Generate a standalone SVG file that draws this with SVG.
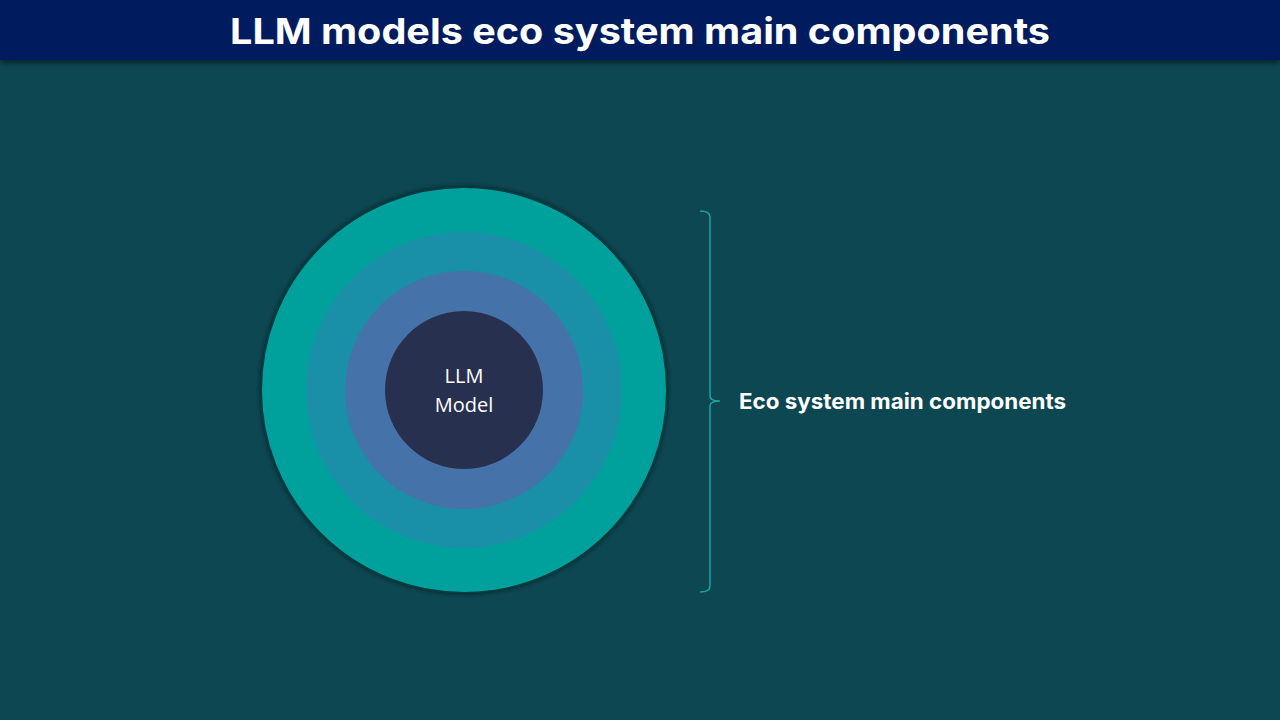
<svg xmlns="http://www.w3.org/2000/svg" width="1280" height="720" viewBox="0 0 1280 720">
<defs>
<filter id="hdrShadow" x="-5%" y="-20%" width="110%" height="160%">
<feDropShadow dx="0" dy="3" stdDeviation="3" flood-color="#000" flood-opacity="0.5"/>
</filter>
<filter id="ringShadow" x="-10%" y="-10%" width="120%" height="120%">
<feDropShadow dx="0" dy="0" stdDeviation="2" flood-color="#021e24" flood-opacity="0.9"/>
</filter>
</defs>
<style>
.title{font-family:Inter,"Liberation Sans",sans-serif;font-weight:700;font-size:36px;fill:#ffffff}
.lbl{font-family:Inter,"Liberation Sans",sans-serif;font-weight:700;font-size:21px;fill:#ffffff}
.core{font-family:"Open Sans","Liberation Sans",sans-serif;font-size:20px;fill:#ffffff}
.brace{fill:none;stroke:#1aa3a3;stroke-width:1.5}
</style>
<rect width="1280" height="720" fill="#0d4752"/>
<g id="header">
<rect x="0" y="0" width="1280" height="60" fill="#001f5f" filter="url(#hdrShadow)"/>
<text class="title" x="640" y="44" text-anchor="middle" textLength="820" lengthAdjust="spacingAndGlyphs">LLM models eco system main components</text>
</g>
<g id="ring-outer">
<circle cx="464" cy="390" r="203" fill="#00a19c" stroke="#073a40" stroke-width="2" filter="url(#ringShadow)"/>
</g>
<g id="ring-second">
<circle cx="464" cy="390" r="158" fill="#1a8fa8"/>
</g>
<g id="ring-third">
<circle cx="464" cy="390" r="119" fill="#4572a8"/>
</g>
<g id="core">
<circle cx="464" cy="390" r="79" fill="#28304f"/>
<text class="core" x="464" y="383" text-anchor="middle">LLM</text>
<text class="core" x="464" y="412" text-anchor="middle">Model</text>
</g>
<g id="connectors">
<path class="brace" d="M700,211 Q710,211 710,217 L710,396 Q710,401 720,401 Q710,401 710,406 L710,586 Q710,592 700,592"/>
</g>
<g id="label">
<text class="lbl" x="739" y="409" textLength="327" lengthAdjust="spacingAndGlyphs">Eco system main components</text>
</g>
</svg>
